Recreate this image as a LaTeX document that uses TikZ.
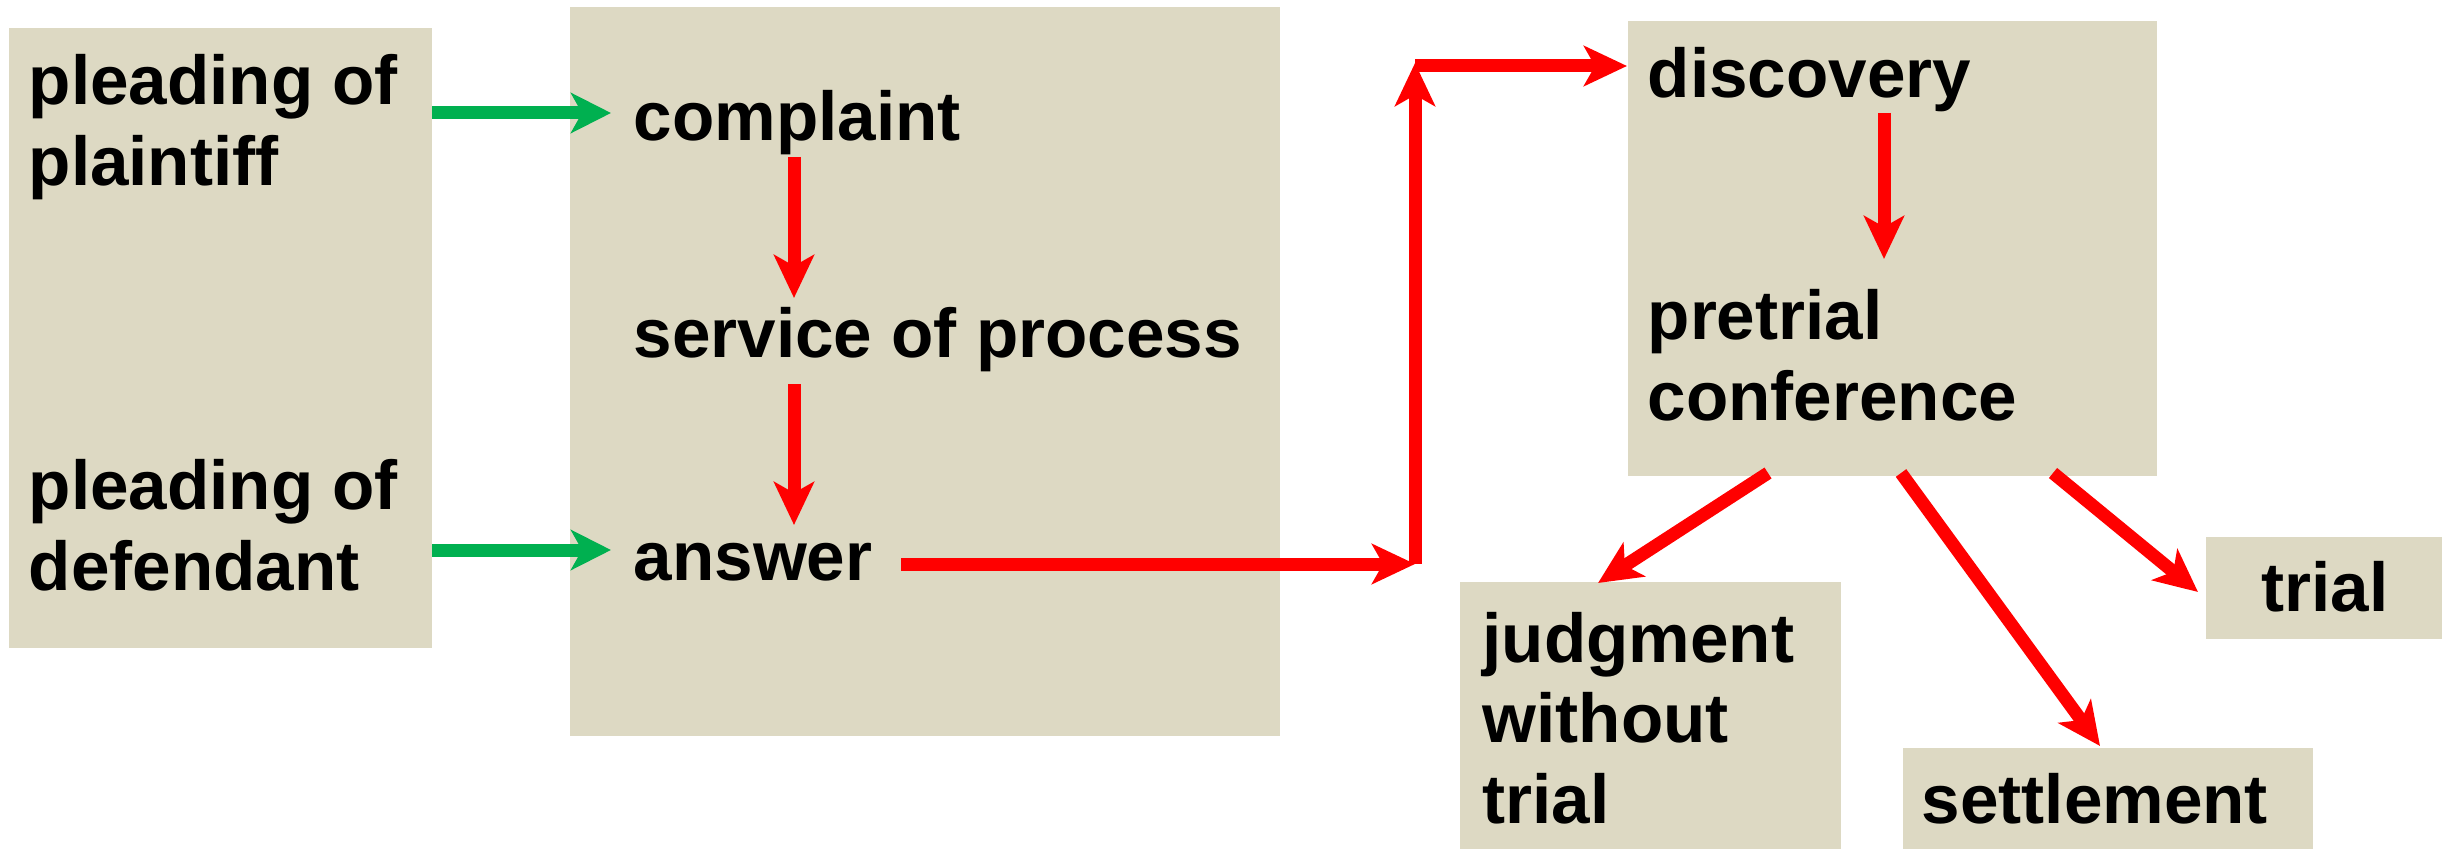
\documentclass[tikz,border=0pt]{standalone}
\usepackage{fontspec}
\setmainfont{Liberation Sans}
\usetikzlibrary{arrows.meta}
\definecolor{boxbeige}{RGB}{221,217,195}
\definecolor{flowgreen}{RGB}{0,176,80}
\definecolor{flowred}{RGB}{255,0,0}

\begin{document}
\begin{tikzpicture}
[
box/.style={fill=boxbeige, draw=none, anchor=north west, inner sep=0pt},
txt/.style={anchor=base west, inner sep=0pt, align=left, font=\fontsize{19.7}{22.8}\selectfont\bfseries},
gflow/.style={draw=flowgreen, line width=1.3mm, -{Stealth[length=4mm,width=4mm,inset=1.1mm]}},
rflow/.style={draw=flowred, line width=1.3mm, -{Stealth[length=4.3mm,width=4mm,inset=1.1mm]}}
]
\useasboundingbox (0,0) rectangle (24.57,8.48);

%Boxes
\node[box, minimum width=4.23cm, minimum height=6.20cm]  (pleadbox)   at (0.08,8.21)  {};
\node[box, minimum width=7.10cm, minimum height=7.29cm]  (stepbox)    at (5.69,8.42)  {};
\node[box, minimum width=5.29cm, minimum height=4.55cm]  (discbox)    at (16.27,8.28) {};
\node[box, minimum width=3.81cm, minimum height=2.67cm]  (judgbox)    at (14.59,2.67) {};
\node[box, minimum width=4.10cm, minimum height=1.01cm]  (settbox)    at (19.02,1.01) {};
\node[box, minimum width=2.36cm, minimum height=1.02cm]  (trialbox)   at (22.05,3.12) {};

%Texts (multi-line ones sit on their last line)
\node[txt]  (plaintiff)   at (0.28,6.63)   {pleading of\\plaintiff};
\node[txt]  (defendant)   at (0.28,2.58)   {pleading of\\defendant};
\node[txt]  (complaint)   at (6.33,7.07)   {complaint};
\node[txt]  (service)     at (6.33,4.91)   {service of process};
\node[txt]  (answer)      at (6.33,2.68)   {answer};
\node[txt]  (discovery)   at (16.47,7.51)  {discovery};
\node[txt]  (pretrial)    at (16.47,4.28)  {pretrial\\conference};
\node[txt]  (judgment)    at (14.82,0.25)  {judgment\\without\\trial};
\node[txt]  (settlement)  at (19.21,0.25)  {settlement};
\node[txt]  (trial)       at (22.61,2.37)  {trial};

\coordinate (lowturn) at (14.15,2.84);
\coordinate (highturn) at (14.15,7.85);

%Lines
\draw[gflow] (pleadbox.east |- 0,7.35) -- (6.11,7.35);
\draw[gflow] (pleadbox.east |- 0,2.98) -- (6.11,2.98);
\draw[rflow] (7.94,6.91) -- (7.94,5.50);
\draw[rflow] (7.94,4.64) -- (7.94,3.23);
\draw[rflow] (9.01,2.84) -- (lowturn);
\draw[rflow] (lowturn) -- (highturn);
\draw[rflow] (14.15,7.82) -- (discbox.west |- 0,7.82);
\draw[rflow] (18.84,7.35) -- (18.84,5.89);
\draw[rflow] (17.68,3.75) -- (15.98,2.65);
\draw[rflow] (19.01,3.75) -- (21.00,1.02);
\draw[rflow] (20.53,3.75) -- (21.98,2.56);
\end{tikzpicture}
\end{document}
